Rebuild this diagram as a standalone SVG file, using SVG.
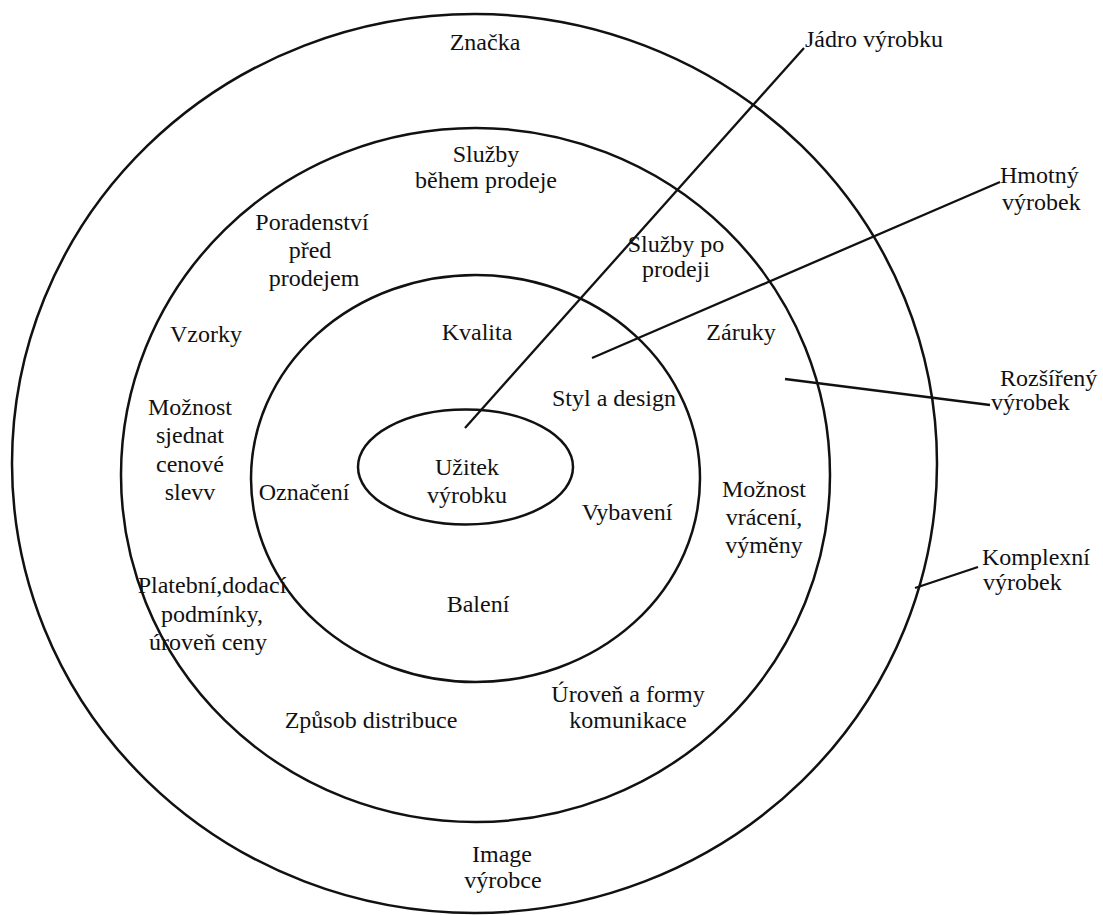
<svg xmlns="http://www.w3.org/2000/svg" width="1103" height="915" viewBox="0 0 1103 915">
<style>
.ring{fill:none;stroke:#111;stroke-width:2.5}
.ln{fill:none;stroke:#111;stroke-width:2.3}
text{font-family:"Liberation Serif","Times New Roman",serif;font-size:24px;fill:#111}
.c{text-anchor:middle}
</style>
<rect width="1103" height="915" fill="#fff"/>
<g id="ring-komplexni"><ellipse class="ring" cx="474.5" cy="463.5" rx="462.5" ry="449.5"/></g>
<g id="ring-rozsireny"><ellipse class="ring" cx="475.5" cy="475" rx="354.5" ry="347"/></g>
<g id="ring-hmotny"><ellipse class="ring" cx="475.5" cy="478.5" rx="224.5" ry="203.5"/></g>
<g id="ring-jadro"><ellipse class="ring" cx="465.5" cy="467" rx="107.5" ry="57.5"/></g>
<g id="connectors">
<line class="ln" x1="465" y1="428" x2="804" y2="48"/>
<line class="ln" x1="592" y1="358" x2="1000" y2="182"/>
<line class="ln" x1="785" y1="379" x2="990" y2="405"/>
<line class="ln" x1="915" y1="588" x2="978" y2="567"/>
</g>
<g id="labels-outer">
<text class="c" x="485" y="50">Značka</text>
<text class="c" x="502" y="862">Image</text>
<text class="c" x="503" y="888">výrobce</text>
</g>
<g id="labels-rozsireny">
<text class="c" x="486" y="162">Služby</text>
<text class="c" x="486" y="188">během prodeje</text>
<text class="c" x="312" y="230">Poradenství</text>
<text class="c" x="310" y="258">před</text>
<text class="c" x="314" y="286">prodejem</text>
<text class="c" x="676" y="252">Služby po</text>
<text class="c" x="676" y="277">prodeji</text>
<text class="c" x="206" y="342">Vzorky</text>
<text class="c" x="741" y="340">Záruky</text>
<text class="c" x="190" y="415">Možnost</text>
<text class="c" x="190" y="443">sjednat</text>
<text class="c" x="190" y="472">cenové</text>
<text class="c" x="190" y="500">slevv</text>
<text class="c" x="764" y="497">Možnost</text>
<text class="c" x="764" y="525">vrácení,</text>
<text class="c" x="764" y="553">výměny</text>
<text class="c" x="212" y="593">Platební,dodací</text>
<text class="c" x="212" y="622">podmínky,</text>
<text class="c" x="208" y="650">úroveň ceny</text>
<text class="c" x="371" y="728">Způsob distribuce</text>
<text class="c" x="628" y="702">Úroveň a formy</text>
<text class="c" x="628" y="728">komunikace</text>
</g>
<g id="labels-hmotny">
<text class="c" x="477" y="340">Kvalita</text>
<text class="c" x="614" y="406">Styl a design</text>
<text class="c" x="304" y="500">Označení</text>
<text class="c" x="627" y="520">Vybavení</text>
<text class="c" x="478" y="612">Balení</text>
</g>
<g id="labels-jadro">
<text class="c" x="467" y="475">Užitek</text>
<text class="c" x="467" y="503">výrobku</text>
</g>
<g id="labels-side">
<text x="805" y="47">Jádro výrobku</text>
<text x="1000" y="183">Hmotný</text>
<text x="1002" y="210">výrobek</text>
<text x="1000" y="386">Rozšířený</text>
<text x="991" y="410">výrobek</text>
<text x="982" y="565">Komplexní</text>
<text x="983" y="590">výrobek</text>
</g>
</svg>
